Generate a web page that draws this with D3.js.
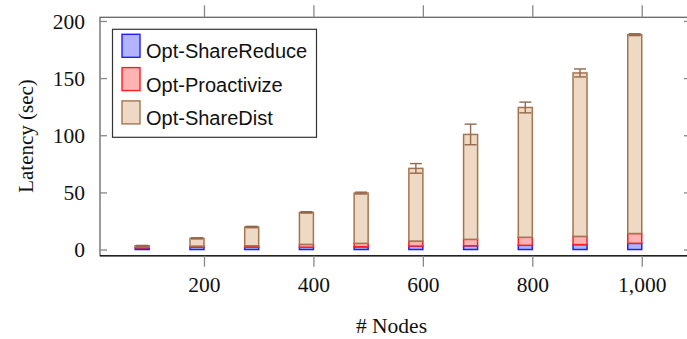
<!DOCTYPE html>
<html>
<head>
<meta charset="utf-8">
<script src="https://cdn.jsdelivr.net/npm/d3@7"></script>
<style>
  body { margin: 0; background: #fff; }
  svg { display: block; }
</style>
</head>
<body>
<div id="chart"></div>
<script>
// values
var nodes = [100, 200, 300, 400, 500, 600, 700, 800, 900, 1000];
var shareReduce = [1.5, 2, 2, 2, 2.4, 3, 3.3, 3.7, 4.3, 5.4];
var proactivize = [0.7, 1, 1.3, 2.5, 3, 4.4, 5.6, 7, 7.2, 8.6];
var shareDist = [1.1, 6.8, 16.4, 28, 44, 63.6, 91.8, 113.6, 143, 174];
var shareDistErr = [0.3, 0.5, 0.6, 0.6, 0.8, 4.2, 9, 4.7, 3.5, 0.8];
var xTicks = [200, 400, 600, 800, 1000];
var yTicks = [0, 50, 100, 150, 200];

var series = [
  {name: "Opt-ShareReduce", values: shareReduce, fill: "#b3b3ff", stroke: "#1f1fff"},
  {name: "Opt-Proactivize", values: proactivize, fill: "#ffb3b3", stroke: "#ff1f1f"},
  {name: "Opt-ShareDist", values: shareDist, fill: "#eed9c5", stroke: "#a37552"}
];

var width = 687, height = 339;
var plotLeft = 100, plotRight = 691, plotTop = 17.3, plotBottom = 255.7;
var barW = 14;

var svg = d3.select("#chart").append("svg")
  .attr("width", width)
  .attr("height", height);

var x = d3.scaleLinear().domain([10, 1090]).range([plotLeft, plotRight]);
var y = d3.scaleLinear().domain([-5.4, 203.2]).range([plotBottom, plotTop]);

// stack the three series
var rows = nodes.map(function(n, i) {
  var r = {node: n};
  series.forEach(function(s) { r[s.name] = s.values[i]; });
  return r;
});
var stacked = d3.stack().keys(series.map(function(s) { return s.name; }))(rows);

stacked.forEach(function(layer, k) {
  svg.append("g")
    .selectAll("rect")
    .data(layer)
    .enter()
    .append("rect")
    .attr("x", function(d) { return x(d.data.node) - barW; })
    .attr("y", function(d) { return y(d[1]); })
    .attr("width", barW)
    .attr("height", function(d) { return y(d[0]) - y(d[1]); })
    .style("fill", series[k].fill)
    .style("stroke", series[k].stroke)
    .style("stroke-width", 1.5);
});

// error bars on the top of the stack
var topLayer = stacked[2];
var err = svg.append("g")
  .selectAll("g")
  .data(topLayer)
  .enter()
  .append("g")
  .style("stroke", "#94684a")
  .style("stroke-width", 1.4);

err.append("line")
  .attr("x1", function(d) { return x(d.data.node) - barW / 2; })
  .attr("x2", function(d) { return x(d.data.node) - barW / 2; })
  .attr("y1", function(d, i) { return y(d[1] - shareDistErr[i]); })
  .attr("y2", function(d, i) { return y(d[1] + shareDistErr[i]); });

err.append("line")
  .attr("x1", function(d) { return x(d.data.node) - barW / 2 - 6; })
  .attr("x2", function(d) { return x(d.data.node) - barW / 2 + 6; })
  .attr("y1", function(d, i) { return y(d[1] + shareDistErr[i]); })
  .attr("y2", function(d, i) { return y(d[1] + shareDistErr[i]); });

err.append("line")
  .attr("x1", function(d) { return x(d.data.node) - barW / 2 - 6; })
  .attr("x2", function(d) { return x(d.data.node) - barW / 2 + 6; })
  .attr("y1", function(d, i) { return y(d[1] - shareDistErr[i]); })
  .attr("y2", function(d, i) { return y(d[1] - shareDistErr[i]); });

// frame
svg.append("rect")
  .attr("x", plotLeft)
  .attr("y", plotTop)
  .attr("width", plotRight - plotLeft)
  .attr("height", plotBottom - plotTop)
  .style("fill", "none")
  .style("stroke", "#666")
  .style("stroke-width", 1.3);

svg.append("line")
  .attr("x1", plotLeft).attr("x2", plotRight)
  .attr("y1", plotBottom).attr("y2", plotBottom)
  .style("stroke", "#222")
  .style("stroke-width", 1.5);

// x axis: ticks out, top and bottom
var xAxis = svg.append("g")
  .attr("transform", "translate(0," + plotBottom + ")")
  .call(d3.axisBottom(x).tickValues(xTicks).tickSize(11).tickSizeOuter(0).tickPadding(10).tickFormat(d3.format(",")));

var xAxisTop = svg.append("g")
  .attr("transform", "translate(0," + plotTop + ")")
  .call(d3.axisTop(x).tickValues(xTicks).tickSize(12).tickSizeOuter(0).tickFormat(""));

// y axis: ticks in, left and right
var yAxis = svg.append("g")
  .attr("transform", "translate(" + plotLeft + ",0)")
  .call(d3.axisLeft(y).tickValues(yTicks).tickSize(-7).tickSizeOuter(0).tickPadding(15));

var yAxisRight = svg.append("g")
  .attr("transform", "translate(" + plotRight + ",0)")
  .call(d3.axisRight(y).tickValues(yTicks).tickSize(-7).tickSizeOuter(0).tickFormat(""));

[xAxis, xAxisTop, yAxis, yAxisRight].forEach(function(a) {
  a.select(".domain").remove();
  a.selectAll(".tick line").style("stroke", "#888").style("stroke-width", 1.3);
  a.selectAll(".tick text")
    .style("font-family", "'Liberation Serif', serif")
    .style("font-size", "21.5px")
    .style("fill", "#111");
});
yAxis.selectAll(".tick text").attr("dy", "0.34em");

// axis titles
svg.append("text")
  .attr("x", (plotLeft + plotRight) / 2 - 4)
  .attr("y", 333)
  .attr("text-anchor", "middle")
  .style("font-family", "'Liberation Serif', serif")
  .style("font-size", "21.5px")
  .style("fill", "#111")
  .text("# Nodes");

svg.append("text")
  .attr("transform", "translate(33," + 136 + ") rotate(-90)")
  .attr("text-anchor", "middle")
  .style("font-family", "'Liberation Serif', serif")
  .style("font-size", "21px")
  .style("fill", "#111")
  .text("Latency (sec)");

// legend
var leg = svg.append("g").attr("transform", "translate(112.5,29.3)");

leg.append("rect")
  .attr("width", 204)
  .attr("height", 108)
  .style("fill", "#fff")
  .style("stroke", "#333")
  .style("stroke-width", 1.2);

var items = leg.selectAll(".leg")
  .data(series)
  .enter().append("g")
  .attr("class", "leg")
  .attr("transform", function(d, i) { return "translate(0," + (i * 33.3) + ")"; });

items.append("rect")
  .attr("x", 9.5)
  .attr("y", 5)
  .attr("width", 18)
  .attr("height", 23)
  .style("fill", function(d) { return d.fill; })
  .style("stroke", function(d) { return d.stroke; })
  .style("stroke-width", 1.4);

items.append("text")
  .attr("x", 33.5)
  .attr("y", 29)
  .style("font-family", "'Liberation Sans', Arial, sans-serif")
  .style("font-size", "20px")
  .style("fill", "#111")
  .text(function(d) { return d.name; });
</script>
</body>
</html>
